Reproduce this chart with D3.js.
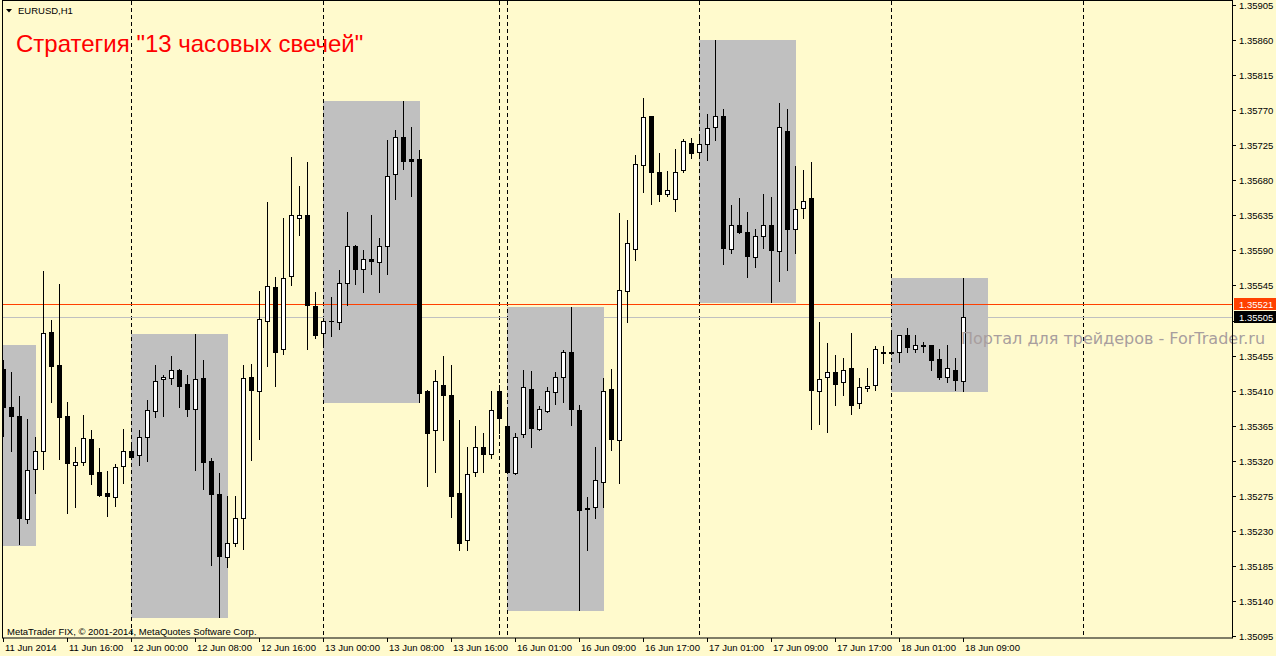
<!DOCTYPE html>
<html><head><meta charset="utf-8">
<script src="https://cdn.jsdelivr.net/npm/d3@7"></script>
<style>html,body{margin:0;padding:0;background:#fffacd;overflow:hidden}svg{display:block}</style>
</head><body>
<svg id="c" width="1276" height="656"></svg>
<script>
// ---- DATA (EURUSD, H1) ----
const open = [1.35438,1.35389,1.35378,1.35245,1.35309,1.35333,1.35485,1.35443,1.35377,1.35315,
1.35319,1.35348,1.35305,1.35278,1.35274,1.35313,1.35333,1.35327,1.35351,1.35384,
1.35425,1.35426,1.35437,1.35418,1.35386,1.35426,1.35320,1.35277,1.35197,1.35215,
1.35246,1.35427,1.35410,1.35500,1.35543,1.35464,1.35557,1.35632,1.35635,1.35519,
1.35484,1.35500,1.35498,1.35548,1.35595,1.35566,1.35579,1.35575,1.35595,1.35688,
1.35736,1.35707,1.35707,1.35409,1.35359,1.35417,1.35404,1.35278,1.35218,1.35305,
1.35337,1.35329,1.35409,1.35364,1.35304,1.35354,1.35412,1.35361,1.35384,1.35408,
1.35427,1.35459,1.35385,1.35258,1.35261,1.35293,1.35412,1.35346,1.35538,1.35592,
1.35699,1.35762,1.35690,1.35663,1.35656,1.35693,1.35728,1.35716,1.35727,1.35748,
1.35762,1.35592,1.35623,1.35614,1.35582,1.35609,1.35622,1.35589,1.35743,1.35618,
1.35644,1.35657,1.35410,1.35428,1.35434,1.35421,1.35439,1.35394,1.35413,1.35417,
1.35460,1.35459,1.35459,1.35482,1.35464,1.35469,1.35468,1.35450,1.35427,1.35437,
1.35422];
const high = [1.35449,1.35434,1.35403,1.35374,1.35350,1.35564,1.35501,1.35547,1.35395,1.35338,
1.35379,1.35359,1.35336,1.35307,1.35316,1.35361,1.35343,1.35359,1.35398,1.35443,
1.35430,1.35455,1.35438,1.35430,1.35483,1.35449,1.35324,1.35304,1.35275,1.35275,
1.35443,1.35444,1.35538,1.35652,1.35556,1.35631,1.35710,1.35673,1.35703,1.35537,
1.35503,1.35530,1.35565,1.35639,1.35597,1.35591,1.35635,1.35606,1.35732,1.35745,
1.35782,1.35748,1.35719,1.35411,1.35437,1.35454,1.35443,1.35372,1.35338,1.35365,
1.35356,1.35410,1.35417,1.35384,1.35355,1.35437,1.35435,1.35390,1.35414,1.35434,
1.35462,1.35517,1.35392,1.35274,1.35338,1.35426,1.35438,1.35638,1.35629,1.35712,
1.35785,1.35762,1.35715,1.35692,1.35720,1.35733,1.35734,1.35739,1.35765,1.35860,
1.35771,1.35648,1.35657,1.35639,1.35618,1.35662,1.35659,1.35779,1.35771,1.35698,
1.35693,1.35703,1.35498,1.35471,1.35456,1.35452,1.35484,1.35426,1.35439,1.35467,
1.35467,1.35485,1.35482,1.35491,1.35482,1.35473,1.35469,1.35463,1.35469,1.35452,
1.35555];
const low = [1.35352,1.35333,1.35213,1.35240,1.35278,1.35310,1.35395,1.35322,1.35253,1.35261,
1.35315,1.35290,1.35275,1.35249,1.35262,1.35291,1.35324,1.35315,1.35320,1.35376,
1.35377,1.35418,1.35389,1.35378,1.35308,1.35284,1.35186,1.35119,1.35184,1.35210,
1.35207,1.35321,1.35348,1.35442,1.35416,1.35457,1.35545,1.35610,1.35464,1.35478,
1.35466,1.35480,1.35489,1.35520,1.35547,1.35537,1.35560,1.35537,1.35560,1.35656,
1.35694,1.35660,1.35395,1.35288,1.35306,1.35347,1.35248,1.35206,1.35206,1.35300,
1.35305,1.35324,1.35356,1.35304,1.35303,1.35351,1.35337,1.35359,1.35382,1.35393,
1.35395,1.35366,1.35128,1.35206,1.35247,1.35260,1.35334,1.35291,1.35498,1.35578,
1.35665,1.35649,1.35653,1.35660,1.35641,1.35691,1.35708,1.35710,1.35706,1.35732,
1.35573,1.35587,1.35612,1.35556,1.35569,1.35593,1.35524,1.35551,1.35565,1.35587,
1.35632,1.35361,1.35367,1.35357,1.35391,1.35404,1.35380,1.35388,1.35410,1.35411,
1.35445,1.35457,1.35447,1.35459,1.35459,1.35460,1.35436,1.35425,1.35421,1.35411,
1.35410];
const close = [1.35389,1.35378,1.35246,1.35308,1.35333,1.35484,1.35442,1.35376,1.35317,1.35318,
1.35349,1.35303,1.35276,1.35275,1.35312,1.35332,1.35325,1.35351,1.35385,1.35422,
1.35427,1.35437,1.35416,1.35387,1.35425,1.35319,1.35277,1.35198,1.35215,1.35246,
1.35426,1.35411,1.35502,1.35544,1.35460,1.35555,1.35635,1.35635,1.35520,1.35482,
1.35500,1.35499,1.35548,1.35595,1.35566,1.35579,1.35576,1.35595,1.35686,1.35736,
1.35705,1.35705,1.35407,1.35356,1.35422,1.35404,1.35275,1.35215,1.35303,1.35337,
1.35329,1.35385,1.35375,1.35305,1.35351,1.35414,1.35362,1.35386,1.35409,1.35428,
1.35460,1.35386,1.35257,1.35259,1.35295,1.35410,1.35348,1.35539,1.35600,1.35701,
1.35761,1.35691,1.35662,1.35668,1.35691,1.35731,1.35715,1.35726,1.35747,1.35762,
1.35593,1.35622,1.35613,1.35583,1.35608,1.35622,1.35591,1.35748,1.35618,1.35643,
1.35654,1.35411,1.35425,1.35434,1.35419,1.35437,1.35392,1.35414,1.35416,1.35463,
1.35458,1.35458,1.35481,1.35466,1.35468,1.35467,1.35449,1.35428,1.35439,1.35423,
1.35505];

const timeTickIndex = [0,8,16,24,32,40,48,56,64,72,80,88,96,104,112,120];
const timeTickLabels = ["11 Jun 2014","11 Jun 16:00","12 Jun 00:00","12 Jun 08:00","12 Jun 16:00",
"13 Jun 00:00","13 Jun 08:00","13 Jun 16:00","16 Jun 01:00","16 Jun 09:00","16 Jun 17:00",
"17 Jun 01:00","17 Jun 09:00","17 Jun 17:00","18 Jun 01:00","18 Jun 09:00"];
const priceTicks = [1.35905,1.35860,1.35815,1.35770,1.35725,1.35680,1.35635,1.35590,1.35545,1.35500,
1.35455,1.35410,1.35365,1.35320,1.35275,1.35230,1.35185,1.35140,1.35095];
const separatorIndex = [16,40,62,63,87,111,135];
// 13-candle boxes: start/end bar index; box 1 starts before the visible data
const boxStart = [-8,16,40,63,87,111];
const boxEnd   = [4,28,52,75,99,123];
const box1High = 1.35469, box1Low = 1.35212;
const bidPrice = 1.35505, askPrice = 1.35521;

// ---- SCALES ----
const W = 1276, H = 656;
const plotL = 3, plotR = 1232, plotT = 1, plotB = 638;
const x = d3.scaleLinear().domain([0,120]).range([3.3,963.3]);
const y = d3.scaleLinear().domain([1.35095,1.35905]).range([636,5]);
const cx = i => Math.round(x(i));
const yy = v => Math.round(y(v));

const svg = d3.select("#c");
svg.append("rect").attr("width",W).attr("height",H).attr("fill","#fffacd");

const defs = svg.append("defs");
defs.append("clipPath").attr("id","plot").append("rect")
  .attr("x",plotL).attr("y",plotT).attr("width",plotR-plotL).attr("height",plotB-plotT);

const g = svg.append("g").attr("clip-path","url(#plot)");

// boxes
const boxes = boxStart.map((s,k)=>{
  const e = boxEnd[k];
  let hi, lo;
  if (s < 0) { hi = box1High; lo = box1Low; }
  else {
    const idx = d3.range(s, Math.min(e,120)+1);
    hi = d3.max(idx, i=>high[i]); lo = d3.min(idx, i=>low[i]);
  }
  return {s,e,hi,lo};
});
g.selectAll("rect.box").data(boxes).join("rect").attr("class","box")
  .attr("x",d=>cx(d.s)).attr("width",d=>cx(d.e)-cx(d.s)+1)
  .attr("y",d=>yy(d.hi)).attr("height",d=>yy(d.lo)-yy(d.hi)+1)
  .attr("fill","#c0c0c0");

// title
svg.append("text").attr("x",16).attr("y",52)
  .attr("font-family","Liberation Sans, Arial, sans-serif").attr("font-size",24)
  .attr("fill","#ff0000").text("Стратегия \"13 часовых свечей\"");

// separators
g.selectAll("line.sep").data(separatorIndex).join("line").attr("class","sep")
  .attr("x1",d=>cx(d)+0.5).attr("x2",d=>cx(d)+0.5).attr("y1",plotT).attr("y2",plotB)
  .attr("stroke","#000").attr("stroke-width",1).attr("stroke-dasharray","4,3");

// bid / ask lines
g.append("rect").attr("x",plotL).attr("width",plotR-plotL).attr("y",yy(bidPrice)).attr("height",1).attr("fill","#c0c0c0");
g.append("rect").attr("x",plotL).attr("width",plotR-plotL).attr("y",yy(askPrice)).attr("height",1).attr("fill","#ff4000");

// candles
const bars = d3.range(open.length).map(i=>({i,o:open[i],h:high[i],l:low[i],c:close[i]}));
const cg = g.append("g");
cg.selectAll("rect.wick").data(bars).join("rect").attr("class","wick")
  .attr("x",d=>cx(d.i)).attr("width",1)
  .attr("y",d=>yy(d.h)).attr("height",d=>yy(d.l)-yy(d.h)+1).attr("fill","#000");
cg.selectAll("rect.body").data(bars).join("rect").attr("class","body")
  .attr("x",d=>cx(d.i)-2).attr("width",5)
  .attr("y",d=>yy(Math.max(d.o,d.c)))
  .attr("height",d=>yy(Math.min(d.o,d.c))-yy(Math.max(d.o,d.c))+1).attr("fill","#000");
cg.selectAll("rect.inner").data(bars.filter(d=>d.c>d.o && yy(d.o)-yy(d.c)>=2)).join("rect").attr("class","inner")
  .attr("x",d=>cx(d.i)-1).attr("width",3)
  .attr("y",d=>yy(d.c)+1).attr("height",d=>yy(d.o)-yy(d.c)-1).attr("fill","#fff");

// watermark
svg.append("text").attr("x",961).attr("y",344)
  .attr("font-family","DejaVu Sans, sans-serif").attr("font-size",16)
  .attr("fill","#a89e9e").text("Портал для трейдеров - ForTrader.ru");

// frame
svg.append("rect").attr("x",2.5).attr("y",0.5).attr("width",plotR-2).attr("height",plotB-0.5)
  .attr("fill","none").attr("stroke","#000");

const small = "Liberation Sans, Arial, sans-serif";
// symbol label
svg.append("path").attr("d","M6,9 L12,9 L9,12.5 Z").attr("fill","#000");
svg.append("text").attr("x",18).attr("y",14).attr("font-family",small).attr("font-size",9.5)
  .attr("fill","#000").text("EURUSD,H1");
svg.append("text").attr("x",7).attr("y",635).attr("font-family",small).attr("font-size",9.5)
  .attr("fill","#000").text("MetaTrader FIX, © 2001-2014, MetaQuotes Software Corp.");

// price axis (labels hidden where the bid/ask price tags cover them)
const tagYs = [yy(askPrice), yy(bidPrice)];
const visibleTicks = priceTicks.filter(v => tagYs.every(t => Math.abs(yy(v)-t) > 10));
const pa = svg.append("g");
pa.selectAll("rect.pt").data(priceTicks).join("rect").attr("class","pt")
  .attr("x",plotR+1).attr("width",3).attr("y",d=>yy(d)).attr("height",1).attr("fill","#000");
pa.selectAll("text").data(visibleTicks).join("text")
  .attr("x",1239).attr("y",d=>yy(d)+3.5).attr("font-family",small).attr("font-size",9.5)
  .attr("fill","#000").text(d=>d.toFixed(5));

// bid/ask labels
[[askPrice,"#ff4000"],[bidPrice,"#000"]].forEach(([p,col])=>{
  svg.append("rect").attr("x",plotR+2).attr("y",yy(p)-6).attr("width",W-plotR-2).attr("height",12).attr("fill",col);
  svg.append("text").attr("x",1239).attr("y",yy(p)+3.5).attr("font-family",small).attr("font-size",9.5)
    .attr("fill","#fff").text(p.toFixed(5));
});

// time axis
const ta = svg.append("g");
ta.selectAll("rect").data(timeTickIndex).join("rect")
  .attr("x",d=>cx(d)).attr("width",1).attr("y",plotB).attr("height",4).attr("fill","#000");
ta.selectAll("text").data(timeTickIndex).join("text")
  .attr("x",d=>cx(d)+2).attr("y",651).attr("font-family",small).attr("font-size",9.5)
  .attr("fill","#000").text((d,k)=>timeTickLabels[k]);
</script>
</body></html>
